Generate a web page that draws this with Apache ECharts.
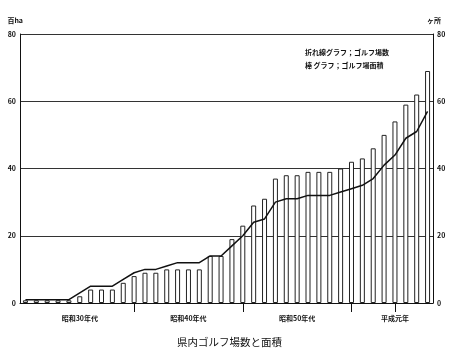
<!DOCTYPE html>
<html>
<head>
<meta charset="utf-8">
<script src="https://cdn.jsdelivr.net/npm/echarts@6/dist/echarts.min.js"></script>
<style>html,body{margin:0;padding:0;background:#fff;}#c{width:450px;height:356px;}</style>
</head>
<body>
<div id="c"></div>
<script>
var years = ['1955','1956','1957','1958','1959','1960','1961','1962','1963','1964',
  '1965','1966','1967','1968','1969','1970','1971','1972','1973','1974',
  '1975','1976','1977','1978','1979','1980','1981','1982','1983','1984',
  '1985','1986','1987','1988','1989','1990','1991','1992'];
var areaValues = [0.8,0.8,0.8,0.8,0.8,2,4,4,4,6,
  8,9,9,10,10,10,10,14,14,19,
  23,29,31,37,38,38,39,39,39,40,
  42,43,46,50,54,59,62,69];
var courseCounts = [1,1,1,1,1,3,5,5,5,7,
  9,10,10,11,12,12,12,14,14,17,
  20,24,25,30,31,31,32,32,32,33,
  34,35,37,41,44,49,51,57];
var eraLabelIndex = [5,15,25,34];
var eraLabels = ['昭和30年代','昭和40年代','昭和50年代','平成元年'];
var tickIndex = [10,20,30,34];
var yTicks = [0,20,40,60,80];
var seriesNames = ['折れ線グラフ；ゴルフ場数','棒 グラフ；ゴルフ場面積'];
var chartTitle = '県内ゴルフ場数と面積';

var FONT = '"Noto Sans CJK JP", "Noto Sans", sans-serif';
var chart = echarts.init(document.getElementById('c'), null, {renderer:'canvas'});
var yAxisCommon = function(pos, name){
  return {
    type:'value', position:pos, min:yTicks[0], max:yTicks[yTicks.length-1], interval:20,
    name:name, nameLocation:'end', nameGap:10,
    nameTextStyle:{fontFamily:FONT, fontSize:7, fontWeight:'bold', color:'#111', align: pos==='left' ? 'right':'left', padding: pos==='left' ? [0,-3,0,0] : [0,0,0,-6]},
    axisLine:{show:true, lineStyle:{color:'#111', width:1}},
    axisTick:{show:false},
    axisLabel:{fontFamily:FONT, fontSize:7, fontWeight:'bold', color:'#111', margin:4},
    splitLine:{show: pos==='left', lineStyle:{color:'#333', width:1}}
  };
};
chart.setOption({
  animation:false,
  backgroundColor:'#fff',
  title:{text:chartTitle, left:172, bottom:4, textStyle:{fontFamily:FONT, fontSize:10.5, fontWeight:'normal', color:'#111'}},
  legend:{data:seriesNames, orient:'vertical', left:295, top:44, icon:'none', itemWidth:0, itemHeight:0, itemGap:6,
    textStyle:{fontFamily:FONT, fontSize:7, fontWeight:'bold', color:'#111'}},
  grid:{left:20, right:17, top:34, bottom:53},
  xAxis:{
    type:'category', data:years, boundaryGap:true,
    axisLine:{lineStyle:{color:'#111', width:1}},
    axisTick:{show:true, alignWithLabel:true, length:9, lineStyle:{color:'#111'},
      interval:function(i){ return tickIndex.indexOf(i) >= 0; }},
    axisLabel:{fontFamily:FONT, fontSize:7, fontWeight:'bold', color:'#111', margin:12,
      interval:function(i){ return eraLabelIndex.indexOf(i) >= 0; },
      formatter:function(v, i){ var k = eraLabelIndex.indexOf(i); return k >= 0 ? eraLabels[k] : ''; }}
  },
  yAxis:[yAxisCommon('left','百ha'), yAxisCommon('right','ヶ所')],
  series:[
    {name:seriesNames[0], type:'line', yAxisIndex:1, data:courseCounts, symbol:'none', z:5,
      lineStyle:{color:'#111', width:1.5}, itemStyle:{color:'#111'}},
    {name:seriesNames[1], type:'bar', yAxisIndex:0, data:areaValues, barWidth:5, z:3,
      itemStyle:{color:'#fff', borderColor:'#222', borderWidth:1}}
  ]
});
</script>
</body>
</html>
